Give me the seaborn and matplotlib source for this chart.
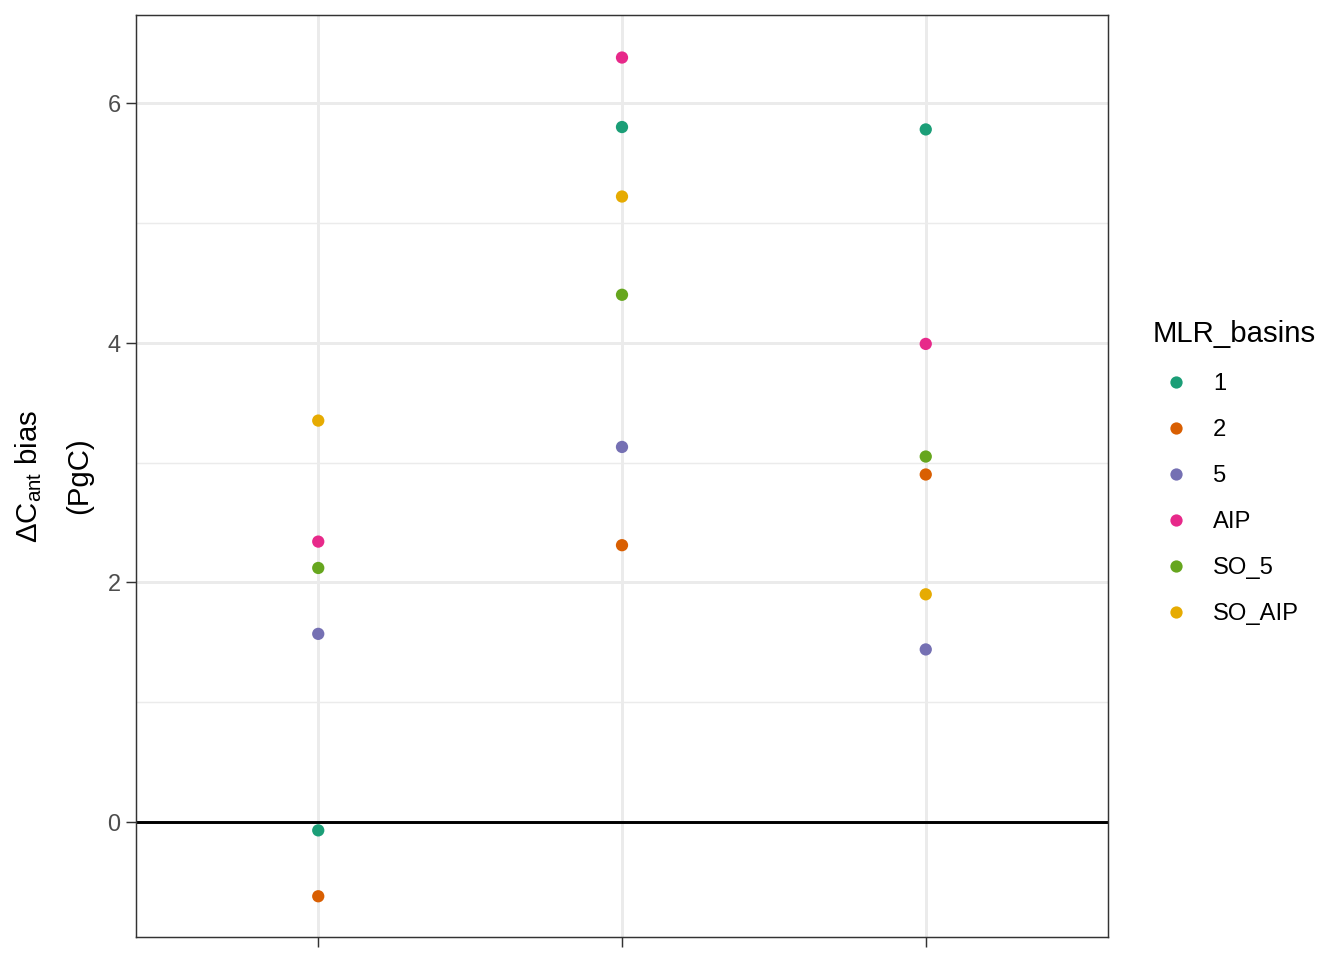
import matplotlib
matplotlib.use("Agg")
import matplotlib.pyplot as plt
import seaborn as sns
import pandas as pd

# ---- data ----
eras = ["c1", "c2", "c3"]
basins = ["1", "2", "5", "AIP", "SO_5", "SO_AIP"]
bias_c1 = [-0.07, -0.62, 1.57, 2.34, 2.12, 3.35]
bias_c2 = [5.80, 2.31, 3.13, 6.38, 4.40, 5.22]
bias_c3 = [5.78, 2.90, 1.44, 3.99, 3.05, 1.90]
palette = ["#1B9E77", "#D95F02", "#7570B3", "#E7298A", "#66A61E", "#E6AB02"]

rows = []
for era, vals in zip(eras, [bias_c1, bias_c2, bias_c3]):
    for b, v in zip(basins, vals):
        rows.append({"era": era, "MLR_basins": b, "bias": v})
df = pd.DataFrame(rows)

sns.set_theme(style="white")
plt.rcParams["font.family"] = ["Liberation Sans", "DejaVu Sans"]
plt.rcParams["mathtext.fontset"] = "custom"
plt.rcParams["mathtext.rm"] = "Liberation Sans"
plt.rcParams["mathtext.it"] = "Liberation Sans:italic"
plt.rcParams["text.color"] = "black"

fig = plt.figure(figsize=(7, 5), dpi=192)
ax = fig.add_axes([136 / 1344, 1 - 937 / 960, (1108 - 136) / 1344, (937 - 15) / 960])

# grid
for y in [1, 3, 5]:
    ax.axhline(y, color="#EBEBEB", lw=0.55, zorder=0)
for y in [0, 2, 4, 6]:
    ax.axhline(y, color="#EBEBEB", lw=1.1, zorder=0)
for x in range(len(eras)):
    ax.axvline(x, color="#EBEBEB", lw=1.1, zorder=0)
ax.axhline(0, color="black", lw=1.1, zorder=1)

sns.stripplot(data=df, x="era", y="bias", hue="MLR_basins", order=eras,
              hue_order=basins, palette=palette, jitter=False, dodge=False,
              size=4.6, linewidth=0, ax=ax, zorder=3)

ax.set_xlim(-0.6, 2.6)
ax.set_ylim(-0.96, 6.735)
ax.set_yticks([0, 2, 4, 6])
ax.set_yticklabels(["0", "2", "4", "6"])
ax.set_xticks(range(len(eras)))
ax.set_xticklabels(["", "", ""])
ax.set_xlabel("")
ax.set_ylabel("$\\Delta\\mathrm{C}_{\\mathrm{ant}}$ bias\n(PgC)", fontsize=11,
              color="black", labelpad=5.5, linespacing=1.95)
ax.tick_params(axis="both", which="both", direction="out", length=3.6,
               width=0.55, color="#333333", labelsize=8.8, labelcolor="#4D4D4D",
               left=True, bottom=True, pad=2.2)
for s in ax.spines.values():
    s.set_color("#333333")
    s.set_linewidth(0.55)

handles, labels = ax.get_legend_handles_labels()
if ax.legend_:
    ax.legend_.remove()
leg = fig.legend(handles, labels, title="MLR_basins", loc="upper left",
                 bbox_to_anchor=(0.8505, 0.677), frameon=False, fontsize=8.9,
                 title_fontsize=11, handlelength=2.0, handletextpad=0.55,
                 labelspacing=1.01, alignment="left", borderaxespad=0)
leg._legend_box.sep += 0.6
for t in leg.get_texts():
    t.set_color("black")
leg.get_title().set_color("black")

fig.savefig("out.png", dpi=192)
